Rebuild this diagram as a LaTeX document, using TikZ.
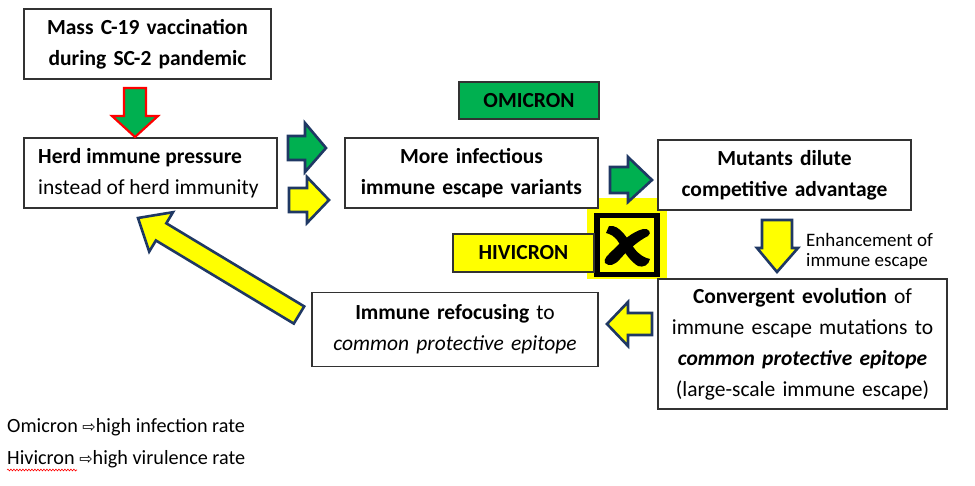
\documentclass[tikz,border=0pt]{standalone}
\usepackage{fontspec}
\setmainfont{Carlito}
\newfontfamily\dejavu{DejaVu Sans}
\usetikzlibrary{decorations.pathmorphing}
\definecolor{navy}{RGB}{31,56,100}
\definecolor{ygreen}{RGB}{0,176,80}
\definecolor{yel}{RGB}{255,255,0}
\definecolor{boxline}{RGB}{50,50,50}
\begin{document}
\begin{tikzpicture}[x=1pt,y=-1pt,
  box/.style={draw=boxline, line width=1.1pt, fill=white, inner sep=0pt, align=center,
              font=\fontsize{21.5}{31}\selectfont},
  tag/.style={draw=boxline, line width=1.1pt, inner sep=0pt, font=\bfseries\fontsize{21.5}{26}\selectfont},
  blockarrow/.style={draw=navy, line width=2.6pt, line join=miter, fill=yel},
  greenarrow/.style={blockarrow, fill=ygreen},
  note/.style={inner sep=0pt, font=\fontsize{20.2}{20}\selectfont},
]
\useasboundingbox (0,0) rectangle (975,486);

% yellow patch with the cross symbol
\fill[yel] (587,198) rectangle (667,279);
\draw[line width=5.6pt] (596.8,215.5) rectangle (657.2,274.5);
\fill (609,226) .. controls (620,224) and (628,240) .. (634,248)
  .. controls (639,255) and (645,258) .. (650,259)
  .. controls (649,265) and (643,268) .. (638,266)
  .. controls (631,262) and (624,252) .. (619,243)
  .. controls (615,236) and (610,234) .. (606,233) -- cycle;
\fill (643,229) .. controls (649,228) and (652,233) .. (648,236)
  .. controls (638,241) and (628,250) .. (620,259)
  .. controls (615,265) and (609,267) .. (605,263)
  .. controls (603,259) and (608,255) .. (613,250)
  .. controls (622,241) and (632,232) .. cycle;

% boxes
\node[box, minimum width=247, minimum height=70, text width=240] (mass) at (147.5,44)
  {\textbf{Mass C-19 vaccination}\\\textbf{during SC-2 pandemic}};
\node[box, minimum width=253, minimum height=70] (herd) at (150.5,173) {};
\node[inner sep=0pt, align=left, anchor=west, font=\fontsize{21.5}{31}\selectfont] (herdtxt) at (38,173)
  {\textbf{Herd immune pressure}\\instead of herd immunity};
\node[box, minimum width=253, minimum height=70, text width=245] (more) at (471.5,173)
  {\textbf{More infectious}\\\textbf{immune escape variants}};
\node[box, minimum width=253, minimum height=70, text width=245] (mut) at (784.5,175)
  {\textbf{Mutants dilute}\\\textbf{competitive advantage}};
\node[box, minimum width=289, minimum height=130, text width=280] (conv) at (802.5,344)
  {\textbf{Convergent evolution} of\\immune escape mutations to\\\textbf{\textit{common protective epitope}}\\(large-scale immune escape)};
\node[box, minimum width=286, minimum height=74, text width=280] (refoc) at (455,329.5)
  {\textbf{Immune refocusing} to\\\textit{common protective epitope}};
\node[tag, fill=ygreen, minimum width=140, minimum height=37] (omi) at (529,100.5) {OMICRON};
\node[tag, fill=yel, minimum width=141, minimum height=38] (hiv) at (523.5,253) {HIVICRON};

% block arrows
\draw[fill=ygreen, draw=red, line width=2.2pt, line join=miter]
  (124,88)--(146,88)--(146,116)--(158,116)--(135,137)--(112,116)--(124,116)--cycle;
\draw[greenarrow] (288,136)--(305,136)--(305,123)--(326,148)--(305,172)--(305,160)--(288,160)--cycle;
\draw[blockarrow] (289,188)--(307,188)--(307,177)--(329,200)--(307,223)--(307,212)--(289,212)--cycle;
\draw[greenarrow] (610,167)--(628,167)--(628,157)--(652,180)--(628,202)--(628,193)--(610,193)--cycle;
\draw[blockarrow] (762,220)--(792,220)--(792,248)--(798,248)--(777,272)--(757,248)--(762,248)--cycle;
\draw[blockarrow] (652,313)--(628,313)--(628,302)--(607,324)--(628,346)--(628,335)--(652,335)--cycle;
\draw[blockarrow] (304.2,306.4)--(166.3,223.3)--(173,212.2)--(138,218)--(149.2,251.6)--(155.9,240.5)--(293.8,323.6)--cycle;

% texts
\node[inner sep=0pt, align=left, anchor=west, font=\fontsize{19}{20}\selectfont] (enh) at (806,251)
  {Enhancement of\\immune escape};
\node[note, anchor=base west] (omitxt) at (7,432)
  {Omicron {\dejavu\fontsize{16}{16}\selectfont ⇨}high infection rate};
\node[note, anchor=base west] (hivtxt) at (7,464)
  {Hivicron {\dejavu\fontsize{16}{16}\selectfont ⇨}high virulence rate};
\draw[red, line width=0.6pt, decorate, decoration={snake, amplitude=0.9pt, segment length=3pt}]
  ([yshift=-6pt]hivtxt.base west) -- ++(70,0);
\end{tikzpicture}
\end{document}
